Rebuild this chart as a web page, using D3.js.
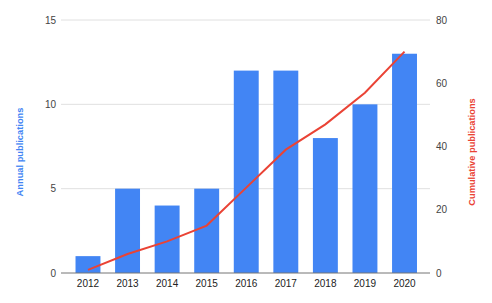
<!DOCTYPE html>
<html><head><meta charset="utf-8">
<script src="https://cdn.jsdelivr.net/npm/d3@7"></script>
<style>body{margin:0;background:#fff}svg{display:block;font-family:Arial,"Liberation Sans",sans-serif}</style>
</head><body><svg id="c" width="492" height="303"></svg>
<script>
const years = ["2012","2013","2014","2015","2016","2017","2018","2019","2020"];
const annual = [1,5,4,5,12,12,8,10,13];
const cumulative = [1,6,10,15,27,39,47,57,70];
const leftTicks = [0,5,10,15];
const rightTicks = [0,20,40,60,80];

const svg = d3.select("#c");
const L = 61, R = 430, T = 20, B = 273;
const x = d3.scaleBand().domain(years).range([68.2, 424.3]).paddingInner(0.37).paddingOuter(0.185);
const yL = d3.scaleLinear().domain([0,15]).range([B,T]);
const yR = d3.scaleLinear().domain([0,80]).range([B,T]);

// gridlines
svg.append("g").selectAll("line").data(leftTicks.filter(d=>d>0)).join("line")
  .attr("x1",L).attr("x2",R).attr("y1",d=>yL(d)).attr("y2",d=>yL(d))
  .attr("stroke","#e0e0e0").attr("stroke-width",1);

// bars
svg.append("g").selectAll("rect").data(years).join("rect")
  .attr("x",d=>x(d)).attr("width",x.bandwidth())
  .attr("y",(d,i)=>yL(annual[i])).attr("height",(d,i)=>B-yL(annual[i]))
  .attr("fill","#4285f4");

// baseline
svg.append("line").attr("x1",L).attr("x2",R).attr("y1",B).attr("y2",B)
  .attr("stroke","#757575").attr("stroke-width",1);

// line
const line = d3.line().x((d,i)=>x(years[i])+x.bandwidth()/2).y(d=>yR(d));
svg.append("path").datum(cumulative).attr("d",line)
  .attr("fill","none").attr("stroke","#ea4335").attr("stroke-width",2);

// left axis labels
svg.append("g").selectAll("text").data(leftTicks).join("text")
  .attr("x",56).attr("y",d=>yL(d)).attr("dy","0.35em").attr("text-anchor","end")
  .attr("font-size",10).attr("fill","#444").text(d=>d);
// right axis labels
svg.append("g").selectAll("text").data(rightTicks).join("text")
  .attr("x",436).attr("y",d=>yR(d)).attr("dy","0.35em").attr("text-anchor","start")
  .attr("font-size",10).attr("fill","#444").text(d=>d);
// x labels
svg.append("g").selectAll("text").data(years).join("text")
  .attr("x",d=>x(d)+x.bandwidth()/2).attr("y",283).attr("dy","0.35em").attr("text-anchor","middle")
  .attr("font-size",10).attr("fill","#222").text(d=>d);

// axis titles
svg.append("text").attr("transform","translate(20,152) rotate(-90)").attr("dy","0.35em")
  .attr("text-anchor","middle").attr("font-size",9.3).attr("font-weight","bold").attr("fill","#4285f4")
  .text("Annual publications");
svg.append("text").attr("transform","translate(472,152) rotate(-90)").attr("dy","0.35em")
  .attr("text-anchor","middle").attr("font-size",9.3).attr("font-weight","bold").attr("fill","#ea4335")
  .text("Cumulative publications");
</script></body></html>
